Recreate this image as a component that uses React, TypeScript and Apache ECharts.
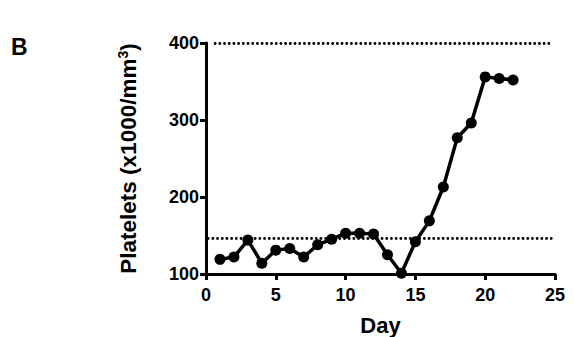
import React, { useEffect, useRef } from "react";
import * as echarts from "echarts";

const days = [1, 2, 3, 4, 5, 6, 7, 8, 9, 10, 11, 12, 13, 14, 15, 16, 17, 18, 19, 20, 21, 22];
const platelets = [119, 122, 144, 114, 131, 133, 122, 138, 145, 153, 153, 152, 125, 101, 142, 169, 213, 277, 296, 356, 354, 352];
const refLines = [146, 400];
const refLineStartDay = [0.15, 0.65];
const refLineEndDay = [24.8, 24.8];
const xTicks = [0, 5, 10, 15, 20, 25];
const yTicks = [100, 200, 300, 400];

const FONT = "Liberation Sans, Arial, Helvetica, sans-serif";

export default function App() {
  const ref = useRef<HTMLDivElement>(null);
  useEffect(() => {
    if (!ref.current) return;
    const chart = echarts.init(ref.current, undefined, { renderer: "svg" });
    chart.setOption({
      animation: false,
      backgroundColor: "#ffffff",
      textStyle: { fontFamily: FONT },
      graphic: [
        {
          type: "text",
          left: 11,
          top: 35,
          style: { text: "B", font: `bold 23px ${FONT}`, fill: "#000" },
        },
      ],
      grid: { left: 206, right: 19, top: 43, bottom: 63, containLabel: false, outerBoundsMode: "none" },
      xAxis: {
        type: "value",
        min: xTicks[0],
        max: xTicks[xTicks.length - 1],
        interval: 5,
        name: "Day",
        nameLocation: "middle",
        nameGap: 40,
        nameTextStyle: { fontSize: 22, fontWeight: "bold", color: "#000", fontFamily: FONT },
        axisLine: { show: true, onZero: false, lineStyle: { color: "#000", width: 3 } },
        axisTick: { show: true, length: 6, lineStyle: { color: "#000", width: 3 } },
        axisLabel: { fontSize: 18, fontWeight: "bold", color: "#000", margin: 12, fontFamily: FONT },
        splitLine: { show: false },
      },
      yAxis: {
        type: "value",
        min: yTicks[0],
        max: yTicks[yTicks.length - 1],
        interval: 100,
        name: "Platelets (x1000/mm{sup|3})",
        nameLocation: "middle",
        nameGap: 66,
        nameTextStyle: {
          fontSize: 22.5,
          fontWeight: "bold",
          color: "#000",
          fontFamily: FONT,
          rich: {
            sup: { fontSize: 14, fontWeight: "bold", color: "#000", verticalAlign: "top", padding: [0, 0, 10, 0], fontFamily: FONT },
          },
        },
        axisLine: { show: true, onZero: false, lineStyle: { color: "#000", width: 3 } },
        axisTick: { show: true, length: 6, lineStyle: { color: "#000", width: 3 } },
        axisLabel: { fontSize: 18, fontWeight: "bold", color: "#000", margin: 7, fontFamily: FONT },
        splitLine: { show: false },
      },
      series: [
        {
          type: "line",
          data: days.map((d, i) => [d, platelets[i]]),
          symbol: "circle",
          symbolSize: 11,
          itemStyle: { color: "#000" },
          lineStyle: { color: "#000", width: 3.5 },
          z: 3,
          markLine: {
            silent: true,
            symbol: "none",
            label: { show: false },
            lineStyle: { color: "#000", width: 2.8, type: [0.1, 4.6], cap: "round" },
            data: refLines.map((v, i) => [
              { coord: [refLineStartDay[i], v] },
              { coord: [refLineEndDay[i], v] },
            ]),
          },
        },
      ],
    });
    return () => chart.dispose();
  }, []);
  return <div ref={ref} style={{ width: 574, height: 337, position: "absolute", left: 0, top: 0 }} />;
}
